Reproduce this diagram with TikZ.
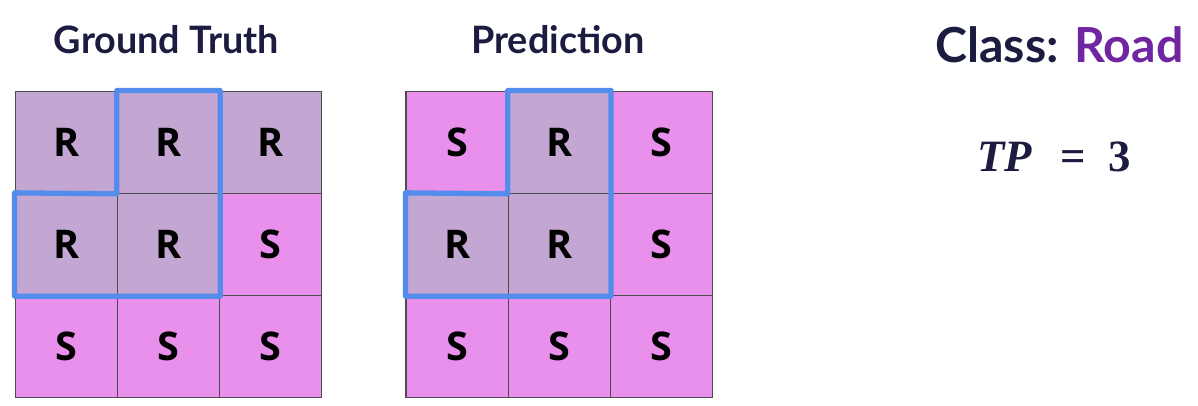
\documentclass[tikz,border=0pt]{standalone}
\usepackage{amsmath,amssymb}
\usepackage[no-math]{fontspec}
\setmainfont{Open Sans}
\newfontfamily\titlefont{Lato}
\newfontfamily\eqfont{Liberation Serif}
\usepackage{xcolor}
\usetikzlibrary{positioning}

\definecolor{roadcol}{RGB}{196,166,210}
\definecolor{skycol}{RGB}{233,143,236}
\definecolor{titlecol}{RGB}{28,28,64}
\definecolor{roadtext}{RGB}{112,38,160}
\definecolor{regioncol}{RGB}{84,140,236}

\begin{document}
\begin{tikzpicture}[x=0.02cm, y=-0.02cm,
    cell/.style={draw=black!70, line width=0.6pt, minimum size=2.046cm, inner sep=0pt,
        font=\fontsize{22.5}{22.5}\selectfont\bfseries},
    road/.style={cell, fill=roadcol},
    sky/.style={cell, fill=skycol},
    title/.style={font=\titlefont\fontsize{21.5}{21.5}\selectfont\bfseries, text=titlecol, anchor=base},
    region/.style={draw=regioncol, line width=3pt, line join=round}]
    \useasboundingbox (0,0) rectangle (1198,406);

    % Ground Truth
    \begin{scope}
        \node[title] (gtTitle) at (166.5,53) {Ground Truth};
        \node[road] (gt11) at (66.2,142.2) {R};
        \node[road] (gt12) at (168.5,142.2) {R};
        \node[road] (gt13) at (270.8,142.2) {R};
        \node[road] (gt21) at (66.2,244.5) {R};
        \node[road] (gt22) at (168.5,244.5) {R};
        \node[sky] (gt23) at (270.8,244.5) {S};
        \node[sky] (gt31) at (66.2,346.8) {S};
        \node[sky] (gt32) at (168.5,346.8) {S};
        \node[sky] (gt33) at (270.8,346.8) {S};
        \draw[region] (gt12.north west) -- (gt12.north east) -- (gt22.south east)
            -- (gt21.south west) -- (gt21.north west) -- (gt12.south west) -- cycle;
    \end{scope}

    % Prediction
    \begin{scope}[xshift=7.82cm]
        \node[title] (prTitle) at (167,53) {Prediction};
        \node[sky] (pr11) at (66.2,142.2) {S};
        \node[road] (pr12) at (168.5,142.2) {R};
        \node[sky] (pr13) at (270.8,142.2) {S};
        \node[road] (pr21) at (66.2,244.5) {R};
        \node[road] (pr22) at (168.5,244.5) {R};
        \node[sky] (pr23) at (270.8,244.5) {S};
        \node[sky] (pr31) at (66.2,346.8) {S};
        \node[sky] (pr32) at (168.5,346.8) {S};
        \node[sky] (pr33) at (270.8,346.8) {S};
        \draw[region] (pr12.north west) -- (pr12.north east) -- (pr22.south east)
            -- (pr21.south west) -- (pr21.north west) -- (pr12.south west) -- cycle;
    \end{scope}

    % Class and count
    \node[title, font=\titlefont\fontsize{27.5}{27.5}\selectfont\bfseries] (classLabel) at (1059.5,62)
        {Class: \textcolor{roadtext}{Road}};
    \node[anchor=base west, inner sep=0pt, text=titlecol, font=\eqfont\fontsize{25.5}{25.5}\selectfont\bfseries]
        (tpLabel) at (977,171) {\textit{TP}\hspace{0.62em}=\hspace{0.5em}3};
\end{tikzpicture}
\end{document}
